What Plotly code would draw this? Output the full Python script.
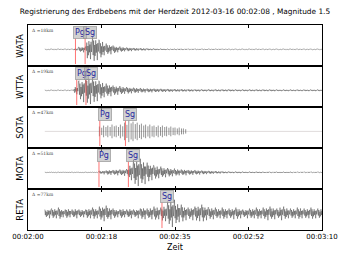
import plotly.graph_objects as go
from plotly.subplots import make_subplots

# ---- data ----
stations = ["WATA", "WTTA", "SOTA", "MOTA", "RETA"]
distances = ["18km", "19km", "47km", "51km", "77km"]
t_start = 124  # first bin (seconds after 00:00:00)
# per-second peak amplitudes of each trace, t = 124 .. 190 s
amp_WATA = [0.4, 0.4, 0.4, 0.4, 0.4, 0.4, 0.4, 1.0, 2.5, 3, 10, 13, 11, 9, 6, 5, 4, 3, 2.5, 2,
            1.8, 1.5, 1.3, 1.2, 1.0, 0.9, 0.8, 0.7, 0.7, 0.6, 0.6, 0.6, 0.6, 0.5, 0.5, 0.5, 0.5,
            0.5, 0.5, 0.5, 0.5, 0.5, 0.4, 0.4, 0.4, 0.4, 0.4, 0.4, 0.4, 0.4, 0.4, 0.4, 0.4, 0.4,
            0.4, 0.4, 0.4, 0.4, 0.4, 0.4, 0.4, 0.4, 0.4, 0.4, 0.4, 0.4, 0.4]
amp_WTTA = [0.4, 0.4, 0.4, 0.4, 0.4, 0.4, 0.4, 4, 10, 12, 14, 13, 11, 9, 7, 6, 5, 4.5, 4, 3.5,
            3, 2.8, 2.5, 2.2, 2, 2, 1.8, 1.7, 1.6, 1.5, 1.4, 1.3, 1.3, 1.2, 1.2, 1.1, 1.1,
            1.0, 1.0, 1.0, 1.0, 1.0, 1.0, 1.0, 1.0, 0.9, 0.9, 0.9, 0.9, 0.9, 0.9, 0.9, 0.9, 0.9,
            0.9, 0.8, 0.8, 0.8, 0.8, 0.8, 0.8, 0.8, 0.8, 0.8, 0.8, 0.8, 0.8]
amp_SOTA = [0.2, 0.2, 0.2, 0.2, 0.2, 0.2, 0.2, 0.2, 0.2, 0.2, 0.2, 0.2, 0.2, 5, 6, 6, 7, 6, 7, 9,
            11, 10, 9, 8, 7, 7, 6, 6, 6, 5, 5, 4, 4, 3, 0.2, 0.2, 0.2, 0.2, 0.2, 0.2, 0.2,
            0.2, 0.2, 0.2, 0.2, 0.2, 0.2, 0.2, 0.2, 0.2, 0.2, 0.2, 0.2, 0.2, 0.2, 0.2, 0.2, 0.2,
            0.2, 0.2, 0.2, 0.2, 0.2, 0.2, 0.2, 0.2, 0.2]
amp_MOTA = [0.3, 0.3, 0.3, 0.3, 0.3, 0.3, 0.3, 0.3, 0.3, 0.3, 0.3, 0.3, 0.3, 1.5, 2, 2.5, 2.5, 3, 3, 3.5,
            8, 13, 14, 12, 10, 8, 7, 6, 5, 4.5, 4, 3.5, 3, 3, 2.5, 2.5, 2.2, 2, 1.8, 1.6, 1.4,
            1.2, 1.0, 0.9, 0.8, 0.8, 0.8, 0.7, 0.7, 0.7, 0.7, 0.7, 0.6, 0.6, 0.6, 0.6, 0.6, 0.6,
            0.6, 0.5, 0.5, 0.5, 0.5, 0.5, 0.5, 0.5, 0.5]
amp_RETA = [4, 5, 5, 6, 4, 5, 4, 5, 4, 4, 5, 6, 5, 7, 8, 6, 5, 4, 5, 4,
            5, 4, 5, 6, 5, 6, 7, 6, 8, 12, 14, 11, 9, 7, 6, 7, 8, 9, 7, 6, 6,
            5, 6, 5, 5, 6, 5, 4, 5, 5, 6, 5, 6, 7, 6, 5, 7, 6, 5, 5, 6, 5,
            5, 6, 5, 5, 5]
amps = [amp_WATA, amp_WTTA, amp_SOTA, amp_MOTA, amp_RETA]
# phase picks (seconds)
pg_picks = [131.3, 131.6, 137.1, 136.9, None]
sg_picks = [133.6, 133.8, 143.2, 143.9, 151.9]
tick_vals = [120, 137.5, 155, 172.5, 190]
tick_text = ["00:02:00", "00:02:18", "00:02:35", "00:02:52", "00:03:10"]
title = "Registrierung des Erdbebens mit der Herdzeit 2012-03-16 00:02:08 , Magnitude 1.5"

# drawing style: stroke shape used to render each envelope bin as a wiggle
WIGGLE = [1.0, -0.45, 0.7, -0.9, 0.35, -0.6, 0.85, -0.3, 0.5, -1.0, 0.6, -0.2, 0.9]
STEPS = 8  # strokes per second

# ---- figure ----
n = len(stations)
fig = make_subplots(rows=n, cols=1, shared_xaxes=True, vertical_spacing=0)
YLO, YHI = -17, 25

for k, (st, a) in enumerate(zip(stations, amps)):
    row = k + 1
    if st == "SOTA":
        fig.add_trace(go.Scatter(x=[t_start, t_start + len(a) - 1], y=[0, 0], mode="lines",
                                 line=dict(color="rgba(190,180,180,0.8)", width=0.6),
                                 hoverinfo="skip", showlegend=False), row=row, col=1)
        xs, ys = [], []
        for i, v in enumerate(a):
            if v > 0.5:
                for off, f in ((0.0, 1.0), (0.55, 0.75)):
                    xs += [t_start + i + off, t_start + i + off, None]
                    ys += [v * f, -v * f, None]
        fig.add_trace(go.Scatter(x=xs, y=ys, mode="lines",
                                 line=dict(color="rgba(50,50,50,0.75)", width=0.7),
                                 hoverinfo="skip", showlegend=False), row=row, col=1)
    else:
        xs, ys = [], []
        c = 0
        for i, v in enumerate(a):
            for s in range(STEPS):
                xs.append(t_start + i + s / STEPS)
                ys.append(v * WIGGLE[c % len(WIGGLE)])
                c += 1
        fig.add_trace(go.Scatter(x=xs, y=ys, mode="lines",
                                 line=dict(color="rgba(0,0,0,0.65)", width=0.5),
                                 hoverinfo="skip", showlegend=False), row=row, col=1)

    # picks
    for ph, tp in (("Pg", pg_picks[k]), ("Sg", sg_picks[k])):
        if tp is None:
            continue
        fig.add_trace(go.Scatter(x=[tp, tp], y=[-15, 11], mode="lines",
                                 line=dict(color="rgba(255,80,80,0.8)", width=1),
                                 hoverinfo="skip", showlegend=False), row=row, col=1)
        fig.add_annotation(x=tp, y=17.5, text=ph, showarrow=False, xanchor="left",
                           xshift=-2, yanchor="middle",
                           font=dict(family="DejaVu Sans", size=8, color="#2a2aa0"),
                           bgcolor="rgba(170,170,170,0.55)", bordercolor="rgba(150,150,150,0.7)",
                           borderwidth=1, borderpad=1, row=row, col=1)
    # distance label
    fig.add_annotation(x=120.4, y=23.5, text="\u0394 =" + distances[k], showarrow=False,
                       xanchor="left", yanchor="top",
                       font=dict(family="DejaVu Serif", size=4.5, color="#444"), row=row, col=1)
    # station label
    fig.add_annotation(xref="paper", yref="y" + ("" if row == 1 else str(row)) + " domain",
                       x=-0.03, y=0.5, text=st, textangle=-90, showarrow=False,
                       xanchor="center", yanchor="middle",
                       font=dict(family="DejaVu Sans", size=8.5, color="black"))

    fig.update_yaxes(range=[YLO, YHI], showticklabels=False, ticks="", showgrid=False,
                     zeroline=False, showline=True, mirror=True, linecolor="black",
                     linewidth=1, row=row, col=1)
    fig.update_xaxes(range=[120, 190], tickvals=tick_vals, ticktext=tick_text,
                     ticks="inside", ticklen=3, tickcolor="black", mirror="ticks",
                     showgrid=False, zeroline=False, showline=True, linecolor="black",
                     linewidth=1, showticklabels=(row == n),
                     tickfont=dict(family="DejaVu Sans", size=7, color="black"),
                     row=row, col=1)

fig.update_xaxes(title=dict(text="Zeit", font=dict(family="DejaVu Sans", size=8, color="black"),
                            standoff=3), row=n, col=1)

fig.update_layout(
    width=350, height=262,
    margin=dict(l=17, r=18, t=25, b=27),
    paper_bgcolor="white", plot_bgcolor="white",
    title=dict(text=title, x=0.5, xanchor="center", y=0.955, yanchor="middle",
               font=dict(family="DejaVu Sans", size=7.4, color="black")),
    showlegend=False,
)

fig.write_html("out.html")
